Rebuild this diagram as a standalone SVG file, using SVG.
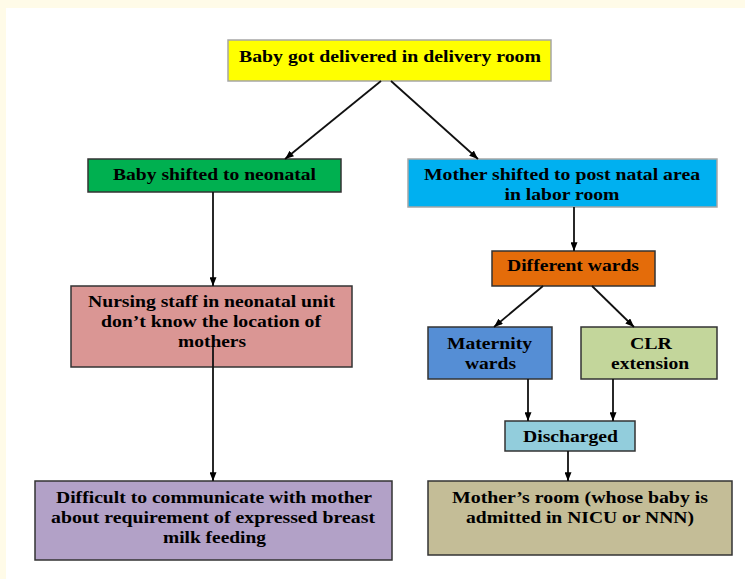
<svg xmlns="http://www.w3.org/2000/svg" width="745" height="579" viewBox="0 0 745 579">
<style>
.box{stroke:#333;stroke-width:1.5}
.lt{stroke:#a6a6a6;stroke-width:1.5}
text{font-family:"Liberation Serif","Times New Roman",serif;font-weight:bold;font-size:17px;fill:#000;text-anchor:middle}
.c line{stroke:#111;stroke-width:1.8;fill:none}
</style>
<defs>
<marker id="ah" viewBox="0 0 10 8" refX="10" refY="4" markerWidth="9" markerHeight="7" markerUnits="userSpaceOnUse" orient="auto">
<path d="M0,0 L10,4 L0,8 Z" fill="#000"/>
</marker>
</defs>
<rect x="0" y="0" width="745" height="579" fill="#fffbe8"/>
<rect x="6" y="8" width="739" height="571" fill="#fff"/>

<g id="n1"><rect class="lt" x="228" y="40" width="323" height="41" fill="#ffff00"/>
<text x="390" y="61.5" textLength="302" lengthAdjust="spacingAndGlyphs">Baby got delivered in delivery room</text></g>

<g id="n2"><rect class="box" x="88" y="159" width="253" height="33" fill="#00b050"/>
<text x="214.5" y="179.5" textLength="203" lengthAdjust="spacingAndGlyphs">Baby shifted to neonatal</text></g>

<g id="n3"><rect class="lt" x="408" y="159" width="309" height="48" fill="#00b0f0"/>
<text x="562" y="179.5" textLength="276" lengthAdjust="spacingAndGlyphs">Mother shifted to post natal area</text>
<text x="562" y="199.5" textLength="115" lengthAdjust="spacingAndGlyphs">in labor room</text></g>

<g id="n4"><rect class="box" x="71" y="286" width="281" height="81" fill="#da9694"/>
<text x="211.5" y="306.5" textLength="247" lengthAdjust="spacingAndGlyphs">Nursing staff in neonatal unit</text>
<text x="211" y="326.5" textLength="220" lengthAdjust="spacingAndGlyphs">don’t know the location of</text>
<text x="212" y="346.5" textLength="68" lengthAdjust="spacingAndGlyphs">mothers</text></g>

<g id="n5"><rect class="box" x="492" y="251" width="163" height="35" fill="#e46c0a"/>
<text x="573" y="271" textLength="132" lengthAdjust="spacingAndGlyphs">Different wards</text></g>

<g id="n6"><rect class="box" x="428" y="327" width="124" height="52" fill="#558ed5"/>
<text x="489.5" y="348.5" textLength="85" lengthAdjust="spacingAndGlyphs">Maternity</text>
<text x="490.5" y="368.5" textLength="51" lengthAdjust="spacingAndGlyphs">wards</text></g>

<g id="n7"><rect class="box" x="581" y="327" width="136" height="52" fill="#c3d69b"/>
<text x="651" y="348.5" textLength="42" lengthAdjust="spacingAndGlyphs">CLR</text>
<text x="650" y="368.5" textLength="78" lengthAdjust="spacingAndGlyphs">extension</text></g>

<g id="n8"><rect class="box" x="505" y="421" width="130" height="30" fill="#92cddc"/>
<text x="570.5" y="441.5" textLength="95" lengthAdjust="spacingAndGlyphs">Discharged</text></g>

<g id="n9"><rect class="box" x="35" y="481" width="357" height="79" fill="#b2a1c7"/>
<text x="214" y="502.5" textLength="316" lengthAdjust="spacingAndGlyphs">Difficult to communicate with mother</text>
<text x="213" y="522.5" textLength="324" lengthAdjust="spacingAndGlyphs">about requirement of expressed breast</text>
<text x="214.5" y="542.5" textLength="103" lengthAdjust="spacingAndGlyphs">milk feeding</text></g>

<g id="n10"><rect class="box" x="428" y="481" width="304" height="74" fill="#c4bd97"/>
<text x="580" y="502.5" textLength="256" lengthAdjust="spacingAndGlyphs">Mother’s room (whose baby is</text>
<text x="580" y="522.5" textLength="228" lengthAdjust="spacingAndGlyphs">admitted in NICU or NNN)</text></g>

<g id="connectors" class="c">
<line x1="381" y1="81" x2="285" y2="159" marker-end="url(#ah)"/>
<line x1="391" y1="81" x2="478" y2="159" marker-end="url(#ah)"/>
<line x1="213" y1="192" x2="213" y2="286" marker-end="url(#ah)"/>
<line x1="213" y1="347" x2="213" y2="481" marker-end="url(#ah)"/>
<line x1="574" y1="207" x2="574" y2="251" marker-end="url(#ah)"/>
<line x1="543" y1="286" x2="494" y2="327" marker-end="url(#ah)"/>
<line x1="592" y1="286" x2="634" y2="327" marker-end="url(#ah)"/>
<line x1="528" y1="379" x2="528" y2="421" marker-end="url(#ah)"/>
<line x1="613" y1="379" x2="613" y2="421" marker-end="url(#ah)"/>
<line x1="568" y1="451" x2="568" y2="481" marker-end="url(#ah)"/>
</g>
</svg>
